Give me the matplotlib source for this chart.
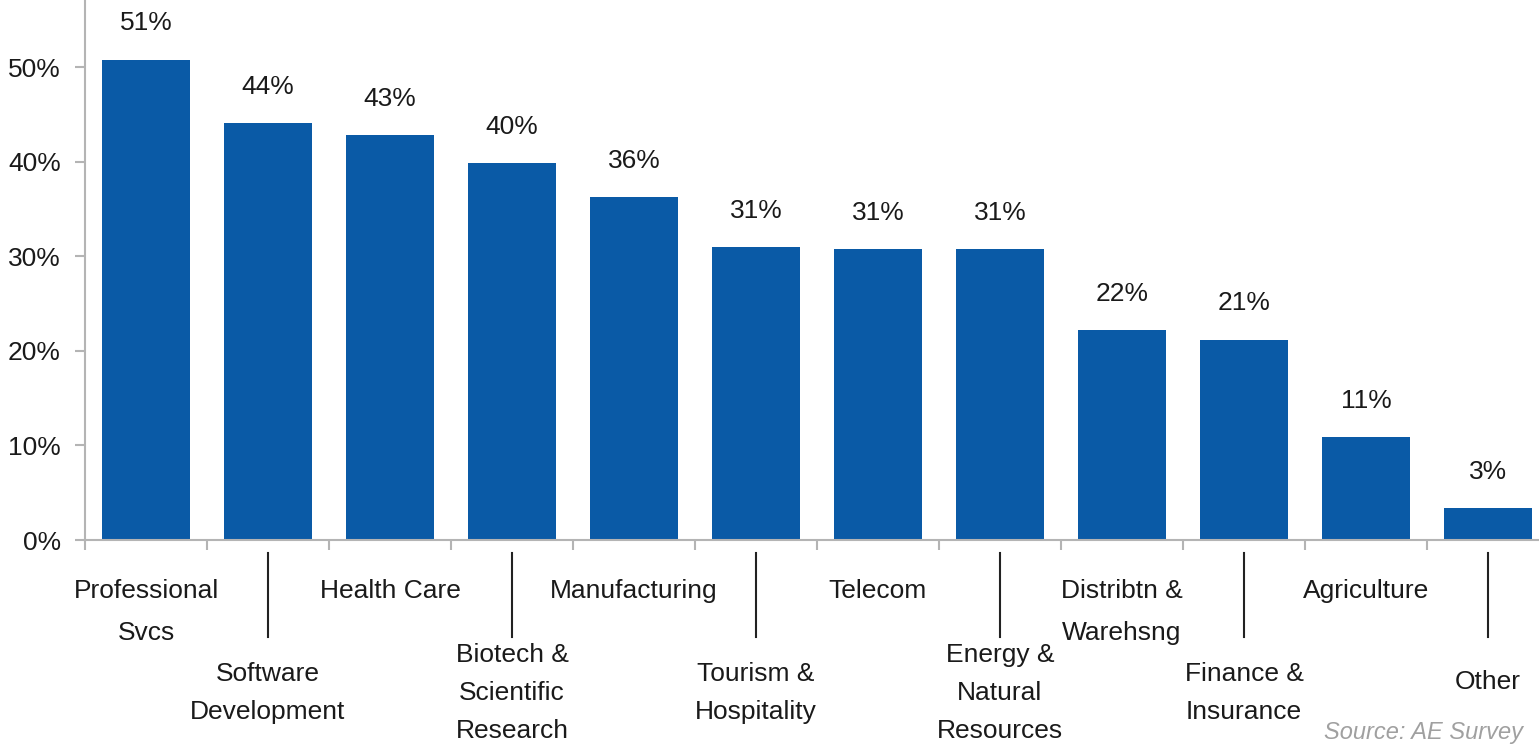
#! /usr/bin/env python3
#
# Share of respondents by industry - bar chart with staggered category labels
#
import matplotlib as mpl
mpl.use('Agg')
import matplotlib.pyplot as plt
from matplotlib.transforms import blended_transform_factory
from matplotlib.lines import Line2D

categories = ["Professional\nSvcs", "Software\nDevelopment", "Health Care",
              "Biotech &\nScientific\nResearch", "Manufacturing",
              "Tourism &\nHospitality", "Telecom", "Energy &\nNatural\nResources",
              "Distribtn &\nWarehsng", "Finance &\nInsurance", "Agriculture", "Other"]
values = [0.508, 0.441, 0.428, 0.399, 0.363, 0.310, 0.308, 0.308, 0.222, 0.212, 0.109, 0.034]
yticks = [0.0, 0.1, 0.2, 0.3, 0.4, 0.5]
source = "Source: AE Survey"

plt.rcParams['font.family'] = ['Liberation Sans', 'DejaVu Sans']
FS = 19

W, H = 1539, 748
fig = plt.figure(figsize=(W / 100, H / 100), dpi=100)
# axes run from x=85px to 1549px (clipped on the right), y=540px to top
ax = fig.add_axes([85 / W, 208 / H, 1464 / W, 540 / H])

bar_color = '#0a5aa6'
grey = '#b4b4b4'
txt = '#1a1a1a'

x = list(range(len(values)))
bars = ax.bar(x, values, width=0.72, color=bar_color, zorder=2)

for xi, v in zip(x, values):
    ax.annotate(f"{v * 100:.0f}%", (xi, v), xytext=(0, 26), textcoords='offset points',
                ha='center', va='center', fontsize=FS, color=txt)

ax.set_xlim(-0.5, len(values) - 0.5)
ax.set_ylim(0, 0.571)
ax.set_yticks(yticks)
ax.set_yticklabels([f"{t * 100:.0f}%" for t in yticks], fontsize=FS, color=txt)
ax.set_xticks([k - 0.5 for k in range(len(values) + 1)])
ax.set_xticklabels([])

for s in ['top', 'right']:
    ax.spines[s].set_visible(False)
for s in ['left', 'bottom']:
    ax.spines[s].set_color(grey)
    ax.spines[s].set_linewidth(1.5)
ax.tick_params(axis='both', direction='out', length=7.5, width=1.5, color=grey)
ax.tick_params(axis='y', pad=10)

# staggered category labels, every second one pushed down with a leader line
trans = blended_transform_factory(ax.transData, fig.transFigure)
for i, lab in enumerate(categories):
    if i % 2 == 0:
        ax.text(i, 1 - 579 / H, lab, transform=trans, ha='center', va='top',
                fontsize=FS, color=txt, linespacing=1.95, clip_on=False)
    else:
        yc = 682 if '\n' not in lab else 693
        ax.text(i, 1 - yc / H, lab, transform=trans, ha='center', va='center',
                fontsize=FS, color=txt, linespacing=1.72, clip_on=False)
        fig.add_artist(Line2D([i, i], [1 - 553 / H, 1 - 637 / H], transform=trans,
                              color='#222222', linewidth=1.5))

fig.text(1523 / W, 1 - 733 / H, source, ha='right', va='center', fontsize=17,
         style='italic', color='#a0a0a0')

plt.savefig('out.png', dpi=100)
